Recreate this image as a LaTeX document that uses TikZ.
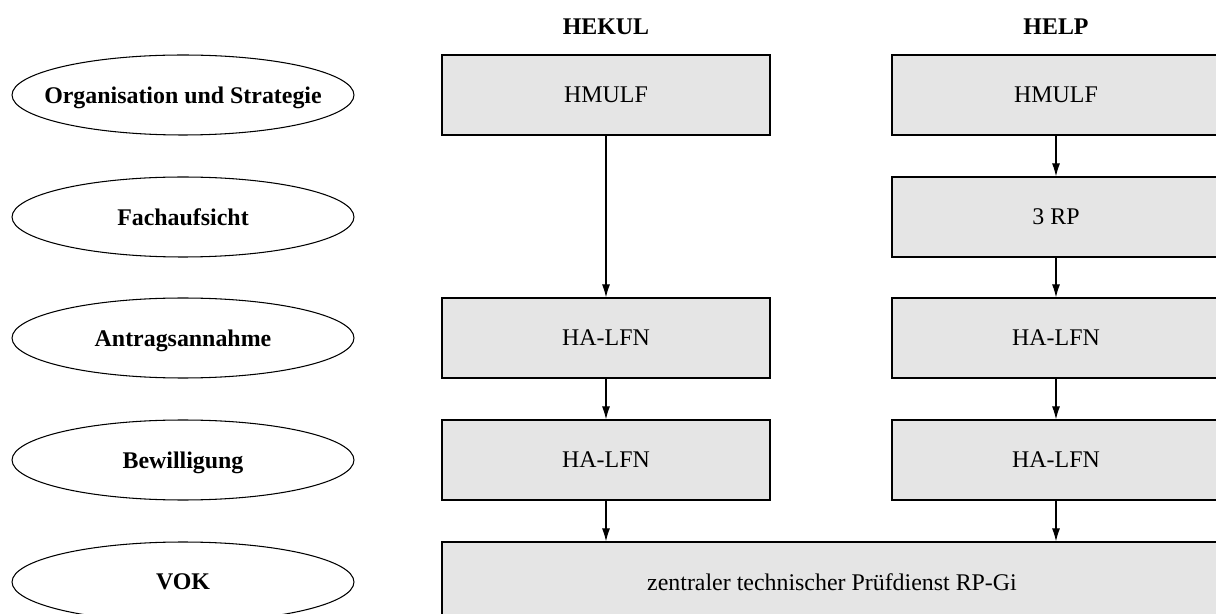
\documentclass[tikz,border=0pt]{standalone}
\usepackage{fontspec}
\setmainfont{Liberation Serif}
\usetikzlibrary{shapes.geometric,arrows.meta}
\definecolor{boxgray}{RGB}{229,229,229}
\tikzset{stufe/.style={draw=black,ellipse,line width=0.6pt,minimum width=6.84cm,minimum height=1.6cm,inner xsep=-3cm,inner ysep=0pt,text depth=0pt,font=\fontsize{13.6}{16}\selectfont\bfseries},
	amt/.style={draw=black,fill=boxgray,line width=0.8pt,minimum width=6.56cm,minimum height=1.6cm,inner sep=0pt,text depth=0pt,font=\fontsize{13.6}{16}\selectfont},
	kopf/.style={text depth=0pt,font=\fontsize{13.6}{16}\selectfont\bfseries}}

\begin{document}
\begin{tikzpicture}[x=0.02cm,y=-0.02cm,>={Latex[length=7.4pt,width=4.6pt]},line width=0.6pt]
				      \useasboundingbox (0,0) rectangle (1216,614);
				      \clip (0,0) rectangle (1216,614);
				      \node[kopf] (hekul) at (606,27) {HEKUL};
				      \node[kopf] (help) at (1056,27) {HELP};

				      \node[stufe] (org) at (183,95) {Organisation und Strategie};
				      \node[stufe] (fach) at (183,217) {Fachaufsicht};
				      \node[stufe] (antrag) at (183,338) {Antragsannahme};
				      \node[stufe] (bew) at (183,460) {Bewilligung};
				      \node[stufe] (vok) at (183,582) {VOK};

				      \node[amt] (k1) at (606,95) {HMULF};
				      \node[amt] (k3) at (606,338) {HA-LFN};
				      \node[amt] (k4) at (606,460) {HA-LFN};
				      \node[amt] (p1) at (1056,95) {HMULF};
				      \node[amt] (p2) at (1056,217) {3 RP};
				      \node[amt] (p3) at (1056,338) {HA-LFN};
				      \node[amt] (p4) at (1056,460) {HA-LFN};
				      \node[amt,minimum width=15.6cm] (tpd) at (832,582) {zentraler technischer Prüfdienst RP-Gi};

				      \path [->](k1) edge (k3);
				      \path [->](k3) edge (k4);
				      \path [->](k4) edge (k4.south |- tpd.north);
				      \path [->](p1) edge (p2);
				      \path [->](p2) edge (p3);
				      \path [->](p3) edge (p4);
				      \path [->](p4) edge (p4.south |- tpd.north);
			      \end{tikzpicture}
\end{document}
